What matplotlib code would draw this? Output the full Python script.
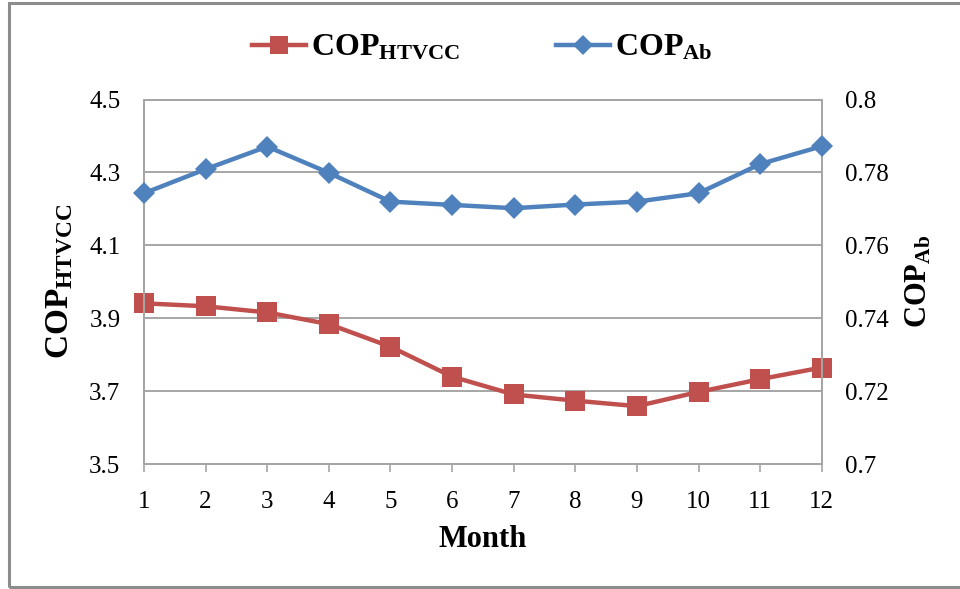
import matplotlib
matplotlib.use("Agg")
import matplotlib.pyplot as plt
from matplotlib.patches import Rectangle
from matplotlib.lines import Line2D

# Monthly coefficient of performance values
months = list(range(1, 13))
cop_htvcc = [3.941, 3.933, 3.916, 3.884, 3.822, 3.740, 3.691, 3.674, 3.659, 3.698, 3.733, 3.765]
cop_ab = [0.7743, 0.7809, 0.7871, 0.7799, 0.7720, 0.7711, 0.7702, 0.7712, 0.7720, 0.7743, 0.7823, 0.7872]

left_ticks = [3.5, 3.7, 3.9, 4.1, 4.3, 4.5]
left_ticklabels = ["3.5", "3.7", "3.9", "4.1", "4.3", "4.5"]
right_ticks = [0.70, 0.72, 0.74, 0.76, 0.78, 0.80]
right_ticklabels = ["0.7", "0.72", "0.74", "0.76", "0.78", "0.8"]

red = "#C0504D"
blue = "#4F81BD"
grid_gray = "#A6A6A6"

plt.rcParams["font.family"] = ["Liberation Serif", "DejaVu Serif"]
plt.rcParams["mathtext.fontset"] = "custom"
plt.rcParams["mathtext.rm"] = "Liberation Serif"
plt.rcParams["mathtext.bf"] = "Liberation Serif:bold"
plt.rcParams["mathtext.it"] = "Liberation Serif:italic"

fig = plt.figure(figsize=(9.6, 5.89), dpi=100)
ax = fig.add_axes([0.15, 0.212, 0.706, 0.619])
ax2 = ax.twinx()

# outer frame around the chart
fig.patches.append(Rectangle((9 / 960, 2 / 589), 1.0, 584 / 589, transform=fig.transFigure,
                             fill=False, edgecolor="#8C8C8C", linewidth=2.2, zorder=0))

ax.plot(months, cop_htvcc, color=red, linewidth=3.2, marker="s", markersize=14.5,
        markeredgewidth=0, clip_on=False, zorder=3)
ax2.plot(months, cop_ab, color=blue, linewidth=3.2, marker="D", markersize=11,
         markeredgewidth=0, clip_on=False, zorder=3)

ax.set_xlim(1, 12)
ax.set_ylim(3.5, 4.5)
ax2.set_ylim(0.70, 0.80)

ax.set_xticks(months)
ax.set_xticklabels([str(m) for m in months], fontsize=18)
ax.set_yticks(left_ticks)
ax.set_yticklabels(left_ticklabels, fontsize=18)
ax2.set_yticks(right_ticks)
ax2.set_yticklabels(right_ticklabels, fontsize=18)

ax.tick_params(axis="x", direction="out", length=6, width=1.2, color=grid_gray, pad=13)
ax.tick_params(axis="y", length=0, pad=17)
ax2.tick_params(axis="y", length=0, pad=17)

ax.yaxis.grid(True, color=grid_gray, linewidth=1.4)
ax.set_axisbelow(True)

for a in (ax, ax2):
    for s in a.spines.values():
        s.set_color(grid_gray)
        s.set_linewidth(1.4)

ax.set_xlabel("Month", fontsize=22, fontweight="bold", labelpad=9)
ax.set_ylabel(r"$\mathbf{COP}_{\mathbf{HTVCC}}$", fontsize=24, labelpad=10)
ax2.set_ylabel(r"$\mathbf{COP}_{\mathbf{Ab}}$", fontsize=22, labelpad=11, rotation=90)

handles = [
    Line2D([], [], color=red, linewidth=3.2, marker="s", markersize=13, markeredgewidth=0),
    Line2D([], [], color=blue, linewidth=3.2, marker="D", markersize=10, markeredgewidth=0),
]
labels = [r"$\mathbf{COP}_{\mathbf{HTVCC}}$", r"$\mathbf{COP}_{\mathbf{Ab}}$"]
fig.legend(handles, labels, loc="center", bbox_to_anchor=(482 / 960, 1 - 48 / 589), ncol=2,
           frameon=False, fontsize=23, handlelength=1.7, handletextpad=0.15, columnspacing=3.0)

fig.savefig("out.png", dpi=100)
